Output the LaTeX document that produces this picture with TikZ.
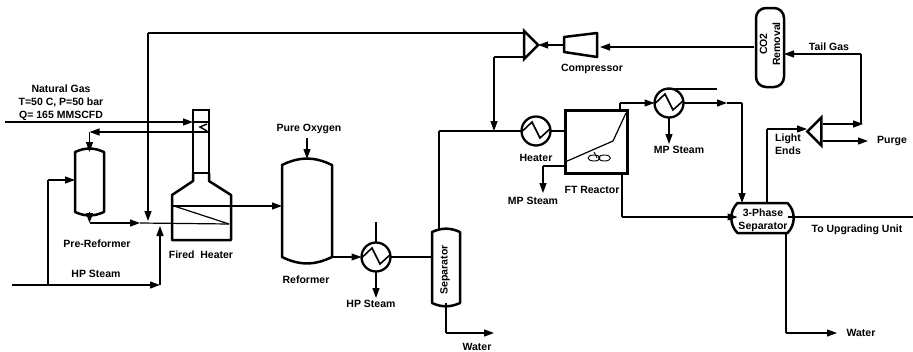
\documentclass[tikz,border=0pt]{standalone}
\usepackage{fontspec}
\setmainfont{Liberation Sans}
\usetikzlibrary{shapes.geometric,calc,arrows.meta}
\tikzstyle{equip} = [line width=2.5pt, line join=round]
\tikzstyle{shell} = [rectangle, inner sep=0pt, outer sep=0pt]
\tikzstyle{hx} = [circle, draw=black, line width=2.3pt, minimum size=29pt, inner sep=0pt, outer sep=0pt, path picture={\draw [line width=1.6pt] ([shift={(-14,0.5)}]path picture bounding box.center) -- ([shift={(-4,-9)}]path picture bounding box.center) -- ([shift={(4,7)}]path picture bounding box.center) -- ([shift={(15,-3)}]path picture bounding box.center);}]
\tikzstyle{tee} = [isosceles triangle, isosceles triangle stretches, draw=black, line width=2.5pt, minimum width=28pt, minimum height=14pt, inner sep=0pt, outer sep=0pt]
\tikzstyle{label} = [font=\bfseries\fontsize{10.5}{13}\selectfont, align=center, inner sep=0pt]
\tikzstyle{line} = [line width=1.2pt]
\tikzstyle{arrow} = [line width=1.2pt,->,>={Triangle[length=10pt,width=7pt]}]
\newcommand{\vesselshell}[2]{\draw [equip] (#1.south west) -- (#1.north west) to[bend left=#2] (#1.north east) -- (#1.south east) to[bend left=#2] cycle;}
\begin{document}
\begin{tikzpicture}[x=1pt,y=-1pt]
\useasboundingbox (0,0) rectangle (913,351);

\node (prereformer) [shell, minimum width=29pt, minimum height=60pt] at (89.5,182) {};
\node (stack) [shell, draw=black, line width=2.5pt, minimum width=16pt, minimum height=63pt] at (201,141.5) {};
\node (firedheater) [shell, minimum width=59pt, minimum height=45pt] at (201.5,217.5) {};
\node (reformer) [shell, minimum width=50pt, minimum height=92pt] at (307,211) {};
\node (hxhp) [hx] at (376,257) {};
\node (separator) [shell, minimum width=28pt, minimum height=71pt] at (446,267.5) {};
\node (heater) [hx] at (536,131) {};
\node (ftreactor) [shell, draw=black, line width=3pt, minimum width=62pt, minimum height=63pt] at (596,141.5) {};
\node (hxmp) [hx] at (669,103) {};
\node (mixer) [tee] at (530,45) {};
\node (compressor) [shell, minimum width=33pt, minimum height=24pt] at (580.5,45) {};
\node (co2removal) [shell, draw=black, line width=2.5pt, rounded corners=10pt, minimum width=28pt, minimum height=79pt] at (770,47.5) {};
\node (threephase) [shell, minimum width=50pt, minimum height=30pt] at (762.5,218) {};
\node (splitter) [tee, shape border rotate=180] at (815.5,131.5) {};

\vesselshell{prereformer}{24}
\vesselshell{reformer}{26}
\vesselshell{separator}{24}
\draw [equip] (threephase.south west) to[bend left=45] (threephase.north west) -- (threephase.north east) to[bend left=45] (threephase.south east) -- cycle;
\draw [equip] (compressor.north east) -- (compressor.south east) -- (564,52) -- (564,37) -- cycle;
\coordinate (neckl) at (193,181);
\coordinate (neckr) at (209,181);
\draw [equip] (stack.south west) -- (neckl) -- (firedheater.north west) -- (firedheater.south west) -- (firedheater.south east) -- (firedheater.north east) -- (neckr) -- (stack.south east);
\coordinate (coilzig) at (200,127);
\coordinate (coilin) at (207,124);
\coordinate (coilout) at (207,131);
\draw [line width=1.5pt] (coilin) -- (coilzig) -- (coilout);

\coordinate (gasin) at (5,122);
\coordinate (gastip) at (193,122);
\coordinate (coilend) at (209,132);
\coordinate (coilbend) at (89.5,132);
\draw [arrow] (gasin) -- (gastip);
\draw [line] (gastip) -- (stack.east |- gastip);
\draw [arrow] (coilend) -- (coilbend);
\draw [arrow] (coilbend) -- (prereformer.north);

\coordinate (steamin) at (12,285);
\coordinate (steambend) at (160,285);
\coordinate (steamtip) at (160,226);
\coordinate (steamtee) at (48,285);
\coordinate (steamup) at (48,180);
\draw [arrow] (steamin) -- (steambend);
\draw [arrow] (steambend) -- (steamtip);
\draw [line] (steamtee) -- (steamup);
\draw [arrow] (steamup) -- (prereformer.west |- steamup);

\coordinate (prebend) at (89.5,223);
\coordinate (mixtip) at (140,223);
\coordinate (coilstart) at (229,224);
\coordinate (coilmid) at (174,206);
\coordinate (coilexit) at (172,206);
\coordinate (recycledrop) at (148,221);
\coordinate (recyclebend) at (148,33);
\coordinate (mixertop) at (523,33);
\draw [arrow] (prereformer.south) -- (prebend);
\draw [arrow] (prebend) -- (mixtip);
\draw [line] (mixtip) -- (coilstart);
\draw [line] (coilstart) -- (coilmid);
\draw [arrow] (coilexit) -- (reformer.west |- coilexit);
\draw [line] (mixertop) -- (recyclebend);
\draw [arrow] (recyclebend) -- (recycledrop);

\coordinate (oxygenin) at (307,138);
\coordinate (cwin) at (376,222);
\coordinate (hpsteamout) at (376,298);
\draw [arrow] (oxygenin) -- ($(reformer.north)+(0,-6)$);
\draw [arrow] (reformer.east |- hxhp) -- (hxhp.west);
\draw [line] (cwin) -- (hxhp.north);
\draw [arrow] (hxhp.south) -- (hpsteamout);
\draw [line] (hxhp.east) -- (separator.west |- hxhp);

\coordinate (sepbend) at (439,131);
\coordinate (sepwater) at (446,333);
\coordinate (watertip) at (494,333);
\coordinate (mixerbot) at (523,57);
\coordinate (mixerbend) at (494,57);
\coordinate (mixerdrop) at (494,131);
\draw [line] ($(separator.north west)+(7,-3)$) -- (sepbend);
\draw [line] (sepbend) -- (heater.west);
\draw [line] (separator.south) -- (sepwater);
\draw [arrow] (sepwater) -- (watertip);
\draw [line] (mixerbot) -- (mixerbend);
\draw [arrow] (mixerbend) -- (mixerdrop);
\draw [line] (heater.east) -- (ftreactor.west |- heater);

\coordinate (kink) at (613,141);
\coordinate (coilleft) at (565,162);
\coordinate (coilright) at (626,113);
\draw [line] (coilleft) -- (kink) -- (coilright);
\draw [line width=0.9pt] (594,152) -- (597,158);
\draw [line width=0.9pt] (594,158) ellipse [x radius=6, y radius=3];
\draw [line width=0.9pt] (604.5,158) ellipse [x radius=6, y radius=3];

\coordinate (mpleft) at (565,166);
\coordinate (mpbend) at (543,166);
\coordinate (mptip) at (543,193);
\coordinate (ftup) at (620,103);
\coordinate (ftdown) at (622,217);
\draw [line] (mpleft) -- (mpbend);
\draw [arrow] (mpbend) -- (mptip);
\draw [line] (ftreactor.north -| ftup) -- (ftup);
\draw [arrow] (ftup) -- (hxmp.west);
\draw [line] (ftreactor.south -| ftdown) -- (ftdown);
\draw [arrow] (ftdown) -- (threephase.west |- ftdown);
\coordinate (hxmpin) at (717,89);
\coordinate (hxmptip) at (727,103);
\coordinate (hxmpbend) at (742,103);
\coordinate (hxmpout) at (669,144);
\draw [line] (hxmp.north) -- (hxmpin -| hxmp) -- (hxmpin);
\draw [arrow] (hxmp.south) -- (hxmpout);
\draw [arrow] (hxmp.east) -- (hxmptip);
\draw [line] (hxmptip) -- (hxmpbend);
\draw [arrow] (hxmpbend) -- (hxmpbend |- threephase.north);

\coordinate (lightbend) at (767,129);
\coordinate (lighttip) at (807,129);
\coordinate (upgrade) at (913,217);
\coordinate (waterbend) at (786,333);
\coordinate (waterend) at (837,333);
\draw [line] (threephase.north -| lightbend) -- (lightbend);
\draw [arrow] (lightbend) -- (lighttip);
\draw [line] (threephase.east |- upgrade) -- (upgrade);
\draw [line] (threephase.south -| waterbend) -- (waterbend);
\draw [arrow] (waterbend) -- (waterend);

\coordinate (splitup) at (823,124);
\coordinate (splitdown) at (823,141);
\coordinate (tailtip) at (863,124);
\coordinate (tailbend) at (861,54);
\coordinate (purge) at (868,141);
\coordinate (co2out) at (754,47);
\coordinate (compin) at (600,47);
\draw [arrow] (splitup) -- (tailtip);
\draw [line] (tailtip -| tailbend) -- (tailbend);
\draw [arrow] (tailbend) -- (co2removal.east |- tailbend);
\draw [arrow] (splitdown) -- (purge);
\draw [arrow] (co2out) -- (compin);
\draw [arrow] (compressor.west) -- (mixer.apex);

\node (naturalgaslabel) [label] at (61,103) {Natural Gas\\T=50 C, P=50 bar\\Q= 165 MMSCFD};
\node (prereformerlabel) [label] at (97,244) {Pre-Reformer};
\node (hpsteamlabel) [label] at (96,274) {HP Steam};
\node (firedheaterlabel) [label] at (201,255) {Fired\ \ Heater};
\node (oxygenlabel) [label] at (309,129) {Pure Oxygen};
\node (reformerlabel) [label] at (306,280) {Reformer};
\node (hxhplabel) [label] at (371,304) {HP Steam};
\node (separatorlabel) [label, rotate=90] at (445,270) {Separator};
\node (waterlabel) [label] at (477,347) {Water};
\node (heaterlabel) [label] at (536,158) {Heater};
\node (mpsteamlabel) [label] at (533,201) {MP Steam};
\node (ftreactorlabel) [label] at (592,190) {FT Reactor};
\node (compressorlabel) [label] at (592,69) {Compressor};
\node (hxmplabel) [label] at (679,150) {MP Steam};
\node (co2label) [label, rotate=90] at (770,44) {CO2\\Removal};
\node (tailgaslabel) [label] at (829,47) {Tail Gas};
\node (lightendslabel) [label] at (788,144.5) {Light\\Ends};
\node (purgelabel) [label] at (892,141) {Purge};
\node (threephaselabel) [label] at (763,220) {3-Phase\\Separator};
\node (upgradelabel) [label] at (857,230) {To Upgrading Unit};
\node (water2label) [label] at (861,333) {Water};

\end{tikzpicture}
\end{document}
